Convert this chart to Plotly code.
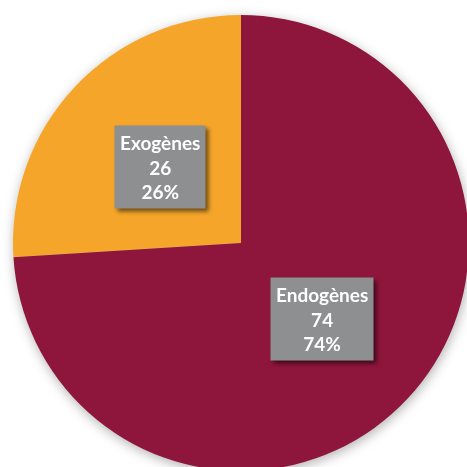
import math
import plotly.graph_objects as go

# Répartition des causes
labels = ["Exogènes", "Endogènes"]
values = [26, 74]
colors = ["#F5A62A", "#8E163C"]

total = sum(values)
# le premier secteur se termine à midi, en partant vers la gauche
rotation = -360.0 * values[0] / total

fig = go.Figure()
fig.add_trace(go.Pie(
    labels=labels,
    values=values,
    marker=dict(colors=colors, line=dict(width=0)),
    sort=False,
    direction="clockwise",
    rotation=rotation,
    textinfo="none",
    hoverinfo="skip",
    showlegend=False,
    domain=dict(x=[0, 1], y=[0, 1]),
))

# Étiquettes grises placées au milieu de chaque secteur (sens anti-horaire depuis midi)
start = 0.0
label_r = 0.245  # fraction du papier depuis le centre
for lab, val in zip(labels, values):
    frac = val / total
    mid = (start + frac / 2) * 2 * math.pi
    start += frac
    x = 0.5 - label_r * math.sin(mid)
    y = 0.5 + label_r * math.cos(mid)
    pct = round(100 * frac)
    fig.add_annotation(
        x=x, y=y, xref="paper", yref="paper",
        xanchor="center", yanchor="middle",
        text=f"{lab}<br>{val}<br>{pct}%",
        showarrow=False,
        font=dict(family="Lato", size=19, color="white", weight="bold"),
        bgcolor="#8D8F91",
        borderpad=5,
        align="center",
    )

fig.update_layout(
    width=469, height=471,
    margin=dict(l=13, r=0, t=15, b=0),
    paper_bgcolor="white",
    plot_bgcolor="white",
)

js = """
var gd = document.getElementById('{plot_id}');
document.documentElement.style.overflow = 'hidden';
document.body.style.overflow = 'hidden';
document.body.style.margin = '0';
gd.querySelectorAll('.pielayer .trace').forEach(function (t) {
  t.style.filter = 'drop-shadow(1px 3px 6px rgba(0,0,0,0.30))';
});
gd.querySelectorAll('.annotation').forEach(function (a) {
  a.style.filter = 'drop-shadow(3px 3px 2px rgba(0,0,0,0.55))';
});
"""

fig.write_html("out.html", post_script=js, config={"displayModeBar": False})
